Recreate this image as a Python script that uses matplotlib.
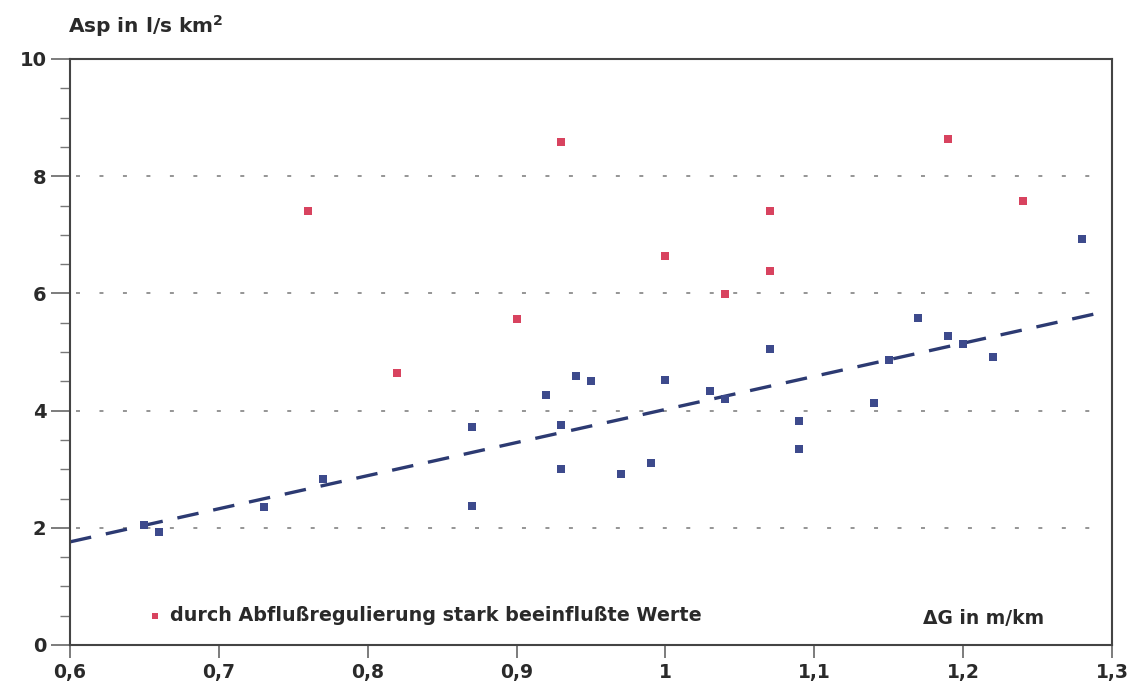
import numpy as np
import matplotlib.pyplot as plt
from matplotlib.ticker import MultipleLocator

# --- data ---
blue_x = [0.65, 0.66, 0.73, 0.77, 0.87, 0.87, 0.92, 0.93, 0.93, 0.94,
          0.95, 0.97, 0.99, 1.00, 1.03, 1.04, 1.07, 1.09, 1.09, 1.14,
          1.15, 1.17, 1.19, 1.20, 1.22, 1.28]
blue_y = [2.04, 1.92, 2.36, 2.84, 2.38, 3.72, 4.26, 3.75, 3.01, 4.59,
          4.50, 2.91, 3.10, 4.52, 4.33, 4.20, 5.05, 3.82, 3.34, 4.13,
          4.86, 5.58, 5.27, 5.14, 4.91, 6.93]

red_x = [0.76, 0.82, 0.90, 0.93, 1.00, 1.04, 1.07, 1.07, 1.19, 1.24]
red_y = [7.41, 4.64, 5.57, 8.58, 6.64, 5.99, 7.41, 6.39, 8.63, 7.57]

# regression line y = a + b * (x - 0.6)
fit_a = 1.76
fit_b = 5.65

x_ticks = [0.6, 0.7, 0.8, 0.9, 1.0, 1.1, 1.2, 1.3]
x_tick_labels = ["0,6", "0,7", "0,8", "0,9", "1", "1,1", "1,2", "1,3"]
y_ticks = [0, 2, 4, 6, 8, 10]

blue = "#3d4a8c"
red = "#d8435f"
ink = "#2a2a2a"

plt.rcParams['font.family'] = ['DejaVu Sans']

W, H = 1136, 686
fig = plt.figure(figsize=(W / 100, H / 100), dpi=100)
ax = fig.add_axes([70 / W, 1 - 645 / H, (1112 - 70) / W, (645 - 59) / H])

ax.set_xlim(0.6, 1.3)
ax.set_ylim(0, 10)

# dotted gridlines
for g in [2, 4, 6, 8]:
    ax.plot([0.604, 1.29], [g, g], color="#8c8c8c", lw=1.3,
            ls=(0, (2.2, 10.8)), zorder=1)

# regression line
xs = np.array([0.6, 1.29])
ax.plot(xs, fit_a + fit_b * (xs - 0.6), color="#2c3a72", lw=2.4,
        ls=(0, (6.5, 4.5)), zorder=2)

ax.scatter(blue_x, blue_y, marker="s", s=32, color=blue, linewidths=0, zorder=3)
ax.scatter(red_x, red_y, marker="s", s=32, color=red, linewidths=0, zorder=3)

# legend note inside the axes
ax.scatter([0.657], [0.50], marker="s", s=22, color=red, linewidths=0, zorder=3)
ax.text(0.667, 0.50, "durch Abflußregulierung stark beeinflußte Werte",
        fontsize=13.8, color=ink, va="center", ha="left", fontweight="bold")

ax.text(1.214, 0.45, "ΔG in m/km", fontsize=13.5, color=ink, va="center",
        ha="center", fontweight="bold")
fig.text(68 / W, 1 - 33 / H, "Asp in l/s km$^\\mathbf{2}$", fontsize=14.5, color=ink,
         va="baseline", ha="left", fontweight="bold")

ax.set_xticks(x_ticks)
ax.set_xticklabels(x_tick_labels)
ax.set_yticks(y_ticks)
ax.yaxis.set_minor_locator(MultipleLocator(0.5))
ax.tick_params(axis="y", which="major", direction="out", length=14,
               width=1.2, color="#666666", labelsize=14, labelcolor=ink, pad=3)
ax.tick_params(axis="x", which="major", direction="out", length=9,
               width=1.2, color="#666666", labelsize=13.5, labelcolor=ink, pad=4)
ax.tick_params(axis="y", which="minor", direction="out", length=7,
               width=1.0, color="#777777")
for lab in ax.get_xticklabels() + ax.get_yticklabels():
    lab.set_fontweight("bold")

for s in ax.spines.values():
    s.set_color("#444444")
    s.set_linewidth(1.5)

fig.savefig("out.png", dpi=100)
